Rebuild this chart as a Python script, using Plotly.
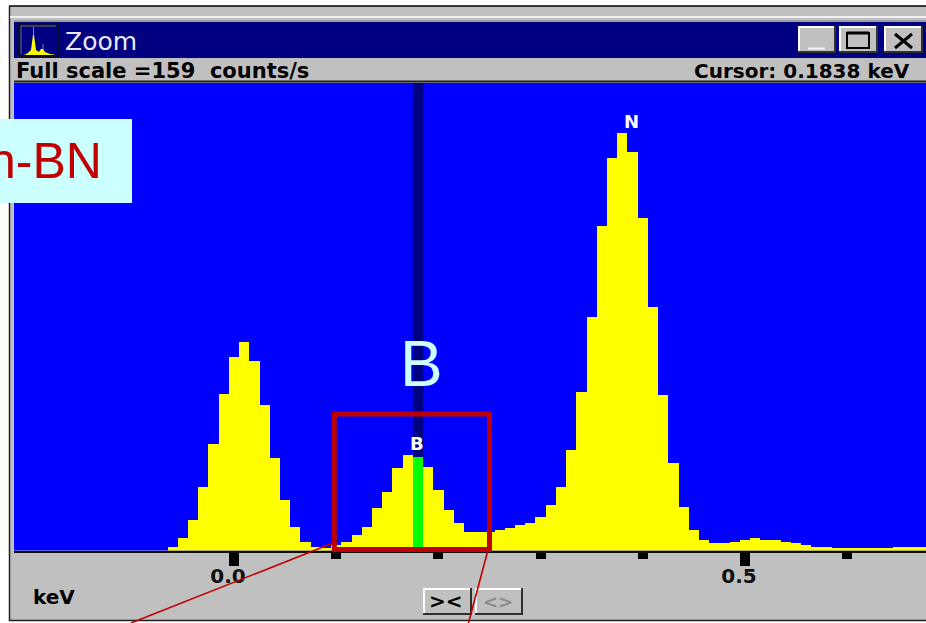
import plotly.graph_objects as go

W, H = 926, 623

# --- data (0.01 keV channels) ---
first_channel_kev = -0.06
counts_per_s = [
    1.3, 4.1, 10.4, 21.7, 36.3, 53.3, 65.7, 70.8, 64.6, 49.4,
    31.4, 17.2, 8.1, 3.0, 1.1, 1.0, 1.9, 3.0, 5.3, 8.1,
    14.4, 20.0, 28.0, 32.5, 31.8, 28.4, 20.6, 13.8, 9.3, 6.4,
    6.4, 6.4, 7.0, 7.6, 8.7, 9.3, 11.5, 15.5, 21.7, 34.2,
    53.8, 79.3, 110.4, 133.4, 141.9, 135.6, 113.2, 82.7, 52.9, 29.7,
    14.9, 7.0, 3.6, 2.4, 2.4, 3.0, 3.6, 4.1, 3.6, 3.6,
    3.0, 2.4, 2.0, 1.3, 1.3, 0.7, 0.7, 0.7, 0.7, 0.7,
    0.7, 1.3, 1.3, 1.3, 1.3,
]
channels_kev = [round(first_channel_kev + 0.01 * i, 2) for i in range(len(counts_per_s))]
cursor_channel_kev = 0.18
full_scale = 159
major_ticks = [0.0, 0.5]
major_labels = ["0.0", "0.5"]
minor_ticks = [0.1, 0.2, 0.3, 0.4, 0.6]
peak_labels = [("N", 0.39, 141.9), ("B", 0.18, 32.5)]

# --- pixel geometry of the window ---
PLOT_L, PLOT_R, PLOT_T, PLOT_B = 14, 926, 83, 550.5
PX_PER_KEV = 1022
ZERO_PX = 234

YELLOW, GREEN, BLUE, NAVY, GREY = "#FFFF00", "#00FF00", "#0000FF", "#000080", "#C0C0C0"
RED, CYAN = "#C00000", "#CCFFFF"
BOLD = "DejaVu Sans"


def px(x):
    return x / W


def py(y):
    return 1 - y / H


def kev(x):
    return (x - ZERO_PX) / PX_PER_KEV


colors = [GREEN if abs(c - cursor_channel_kev) < 1e-6 else YELLOW for c in channels_kev]

fig = go.Figure(
    go.Bar(x=channels_kev, y=counts_per_s, width=0.01, marker=dict(color=colors, line_width=0), hoverinfo="skip")
)

shapes = []


def rect(x0, y0, x1, y1, fill, line=None, lw=0, layer="below"):
    shapes.append(dict(type="rect", xref="paper", yref="paper", x0=px(x0), x1=px(x1), y0=py(y0), y1=py(y1),
                       fillcolor=fill, line=dict(color=line or fill, width=lw), layer=layer))


def seg(x0, y0, x1, y1, color, lw=1, layer="below"):
    shapes.append(dict(type="line", xref="paper", yref="paper", x0=px(x0), x1=px(x1), y0=py(y0), y1=py(y1),
                       line=dict(color=color, width=lw), layer=layer))


def button(x0, y0, x1, y1):
    rect(x0, y0, x1, y1, GREY)
    seg(x0, y0 + 1, x1, y0 + 1, "#FFFFFF", 2)
    seg(x0 + 1, y0, x0 + 1, y1, "#FFFFFF", 2)
    seg(x0, y1 - 1, x1, y1 - 1, "#303030", 2)
    seg(x1 - 1, y0, x1 - 1, y1, "#303030", 2)


# window frame
rect(10, 6, 930, 620, GREY)
seg(9, 6, 930, 6, "#000000", 1.5)
seg(9.5, 6, 9.5, 621, "#202020", 1.5)
seg(9, 620.5, 930, 620.5, "#202020", 1.5)
seg(10, 17, 930, 17, "#F0F0F0", 2)
seg(14, 21, 930, 21, "#808080", 1)
rect(14, 22, 930, 58, NAVY)
seg(14, 81.5, 930, 81.5, "#202020", 2)
rect(PLOT_L, PLOT_T, PLOT_R + 4, PLOT_B, BLUE)

# title-bar icon
rect(19, 24, 58, 56, NAVY, "#101010", 1.5)
seg(21, 26, 56, 26, "#707070", 1)
seg(21, 26, 21, 54, "#707070", 1)
seg(33.5, 27, 33.5, 36, "#808080", 1)
seg(43, 44, 43, 50, "#808080", 1)
shapes.append(dict(type="path", xref="paper", yref="paper", fillcolor=YELLOW, line_width=0, layer="below",
                   path="M %f %f " % (px(24), py(55)) + " ".join("L %f %f" % (px(a), py(b)) for a, b in [
                       (28, 53), (31, 50), (33, 35), (34, 35), (36, 50), (39, 52), (41, 49), (43, 49), (45, 52),
                       (50, 54), (56, 55)]) + " Z"))

# title-bar buttons
button(798, 26, 836, 53)
seg(808, 48.5, 825, 48.5, "#F4F4F4", 2)
button(839, 26, 878, 53)
rect(847, 33, 869, 48, GREY, "#000000", 2)
seg(847, 33, 869, 33, "#000000", 3)
button(884, 26, 923, 53)
seg(895, 34, 912, 48, "#000000", 3)
seg(895, 48, 912, 34, "#000000", 3)

# lower buttons
button(423, 588, 472, 615)
button(475, 588, 523, 615)

# cursor band, through the channel under the cursor
shapes.append(dict(type="rect", xref="x", yref="paper", x0=cursor_channel_kev - 0.005, x1=cursor_channel_kev + 0.005,
                   y0=py(PLOT_B), y1=py(PLOT_T), fillcolor=NAVY, line_width=0, layer="below"))

# h-BN call-out box, zoom frame and leader lines
rect(-2, 119, 132, 203, CYAN, layer="above")
rect(334.3, 414, 489.5, 549.5, "rgba(0,0,0,0)", RED, 5, layer="above")
seg(333, 543, 131, 623, RED, 1.6, "above")
seg(488, 550, 468.5, 623, RED, 1.6, "above")

annotations = []


def label(x, y, text, size, color="#000000", font=BOLD, bold=True, anchor="left"):
    annotations.append(dict(xref="paper", yref="paper", x=px(x), y=py(y), text=text, showarrow=False,
                            xanchor=anchor, yanchor="middle", align=anchor, borderpad=0,
                            font=dict(family=font, size=size, color=color, weight="bold" if bold else "normal")))


label(64, 42, "Zoom", 25, "#E8E8FF", "DejaVu Sans", False)
label(15, 71, "Full scale =%d\u00a0\u00a0counts/s" % full_scale, 21)
label(693, 71, "Cursor:\u00a00.1838\u00a0keV", 20)
label(32, 597, "keV", 20)
label(446, 601, "&gt;&lt;", 20, anchor="center")
label(498, 601, "&lt;&gt;", 18, "#8A8A8A", anchor="center")
label(421, 364, "B", 64, CYAN, "Liberation Sans", False, "center")
label(103, 161, "h-BN", 50, RED, "Liberation Sans", False, "right")

# peak labels sit just above their channels
for name, k, c in peak_labels:
    annotations.append(dict(x=k, y=c, xref="x", yref="y", text=name, showarrow=False, yanchor="bottom",
                            xshift=-1, yshift=0, borderpad=0,
                            font=dict(family=BOLD, size=18, color="#FFFFFF", weight="bold")))

fig.update_layout(
    width=W, height=H, margin=dict(l=0, r=0, t=0, b=0, pad=0),
    paper_bgcolor="#FFFFFF", plot_bgcolor=BLUE,
    showlegend=False, bargap=0, shapes=shapes, annotations=annotations,
    xaxis=dict(
        domain=[px(PLOT_L), px(PLOT_R)], range=[kev(PLOT_L), kev(PLOT_R)],
        showgrid=False, zeroline=False, showline=True, linecolor="#101010", linewidth=2,
        tickmode="array", tickvals=major_ticks, ticktext=major_labels,
        ticks="outside", ticklen=13, tickwidth=10, tickcolor="#000000",
        minor=dict(ticks="outside", tickmode="array", tickvals=minor_ticks, ticklen=6, tickwidth=10,
                   tickcolor="#000000", showgrid=False),
        ticklabelshift=-6, ticklabelstandoff=-7,
        tickfont=dict(family=BOLD, size=20, color="#101010", weight="bold"),
    ),
    yaxis=dict(domain=[py(PLOT_B), py(PLOT_T)], range=[0, full_scale], visible=False),
)

fig.write_html("out.html", config={"displayModeBar": False}, post_script="document.body.style.margin='0';")
